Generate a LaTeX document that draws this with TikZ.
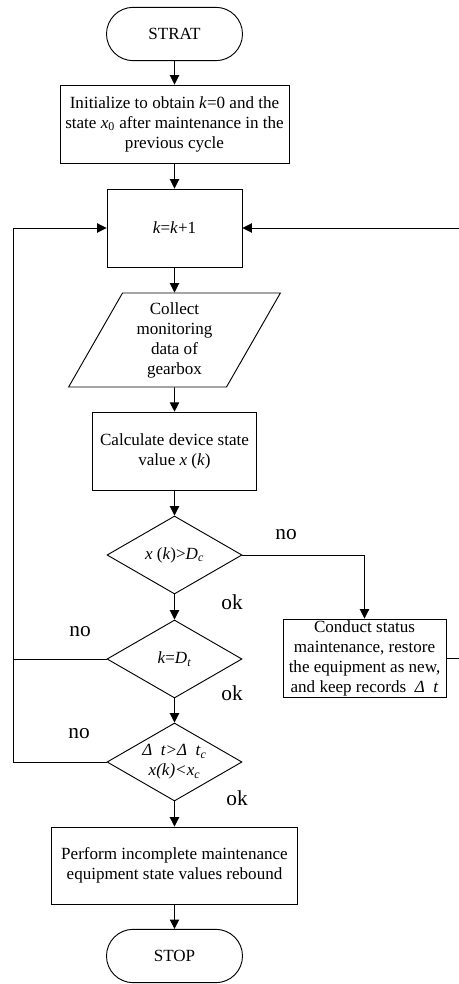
\documentclass[tikz,border=0pt]{standalone}
\usepackage{fontspec}
\setmainfont{Liberation Serif}
\usetikzlibrary{shapes.geometric,shapes.misc,arrows.meta}

\begin{document}
\begin{tikzpicture}[x=0.75pt,y=-0.75pt,line width=0.7pt,
	every node/.style={font=\fontsize{12.8}{15}\selectfont,align=center,inner sep=0pt},
	term/.style={draw,rounded rectangle,minimum width=102pt,minimum height=40pt},
	proc/.style={draw,rectangle,minimum height=58.5pt},
	io/.style={draw,trapezium,trapezium left angle=62.5,trapezium right angle=117.5,trapezium stretches=true,minimum width=159pt,minimum height=70.5pt},
	cond/.style={draw,diamond,shape aspect=1.73,minimum width=101.25pt,minimum height=58.5pt},
	lbl/.style={font=\fontsize{16}{18}\selectfont},
	flow/.style={-{Triangle[length=7pt,width=7pt]}}]
			\useasboundingbox (0,0) rectangle (459,984);
			\node[term] (start) at (174.5,34) {STRAT};
			\node[proc,minimum width=171.75pt] (init) at (174.5,124) {Initialize to obtain \textit{k}=0 and the\\state \textit{x}\textsubscript{0} after maintenance in the\\previous cycle};
			\node[proc,minimum width=101.25pt] (inc) at (174.5,228) {\textit{k}=\textit{k}+1};
			\node[io] (collect) at (174.5,340) {Collect\\monitoring\\data of\\gearbox};
			\node[proc,minimum width=123pt,minimum height=59pt] (calc) at (174.5,451.5) {Calculate device state\\value \textit{x} (\textit{k})};
			\node[cond] (d1) at (174.5,555) {\textit{x} (\textit{k})>\textit{D}\textsubscript{\textit{c}}};
			\node[cond] (d2) at (174.5,659) {\textit{k}=\textit{D}\textsubscript{\textit{t}}};
			\node[cond] (d3) at (174.5,762) {\textit{Δ\ \ t>Δ\ \ t}\textsubscript{\textit{c}}\\\textit{x(k)<x}\textsubscript{\textit{c}}};
			\node[proc,minimum width=122.25pt] (reset) at (364.5,658) {Conduct status\\maintenance, restore\\the equipment as new,\\and keep records \ \textit{Δ\ \ t}};
			\node[proc,minimum width=184.5pt,minimum height=57.75pt] (perform) at (174.5,865.5) {Perform incomplete maintenance\\equipment state values rebound};
			\node[term] (stop) at (174.5,956) {STOP};
			\coordinate (lft) at (13,228);
			\coordinate (rgt) at (462,228);
			\draw[flow] (start) -- (init);
			\draw[flow] (init) -- (inc);
			\draw[flow] (inc) -- (collect);
			\draw[flow] (collect) -- (calc);
			\draw[flow] (calc) -- (d1);
			\draw[flow] (d1) -- (d2);
			\draw[flow] (d2) -- (d3);
			\draw[flow] (d3) -- (perform);
			\draw[flow] (perform) -- (stop);
			\draw[flow] (d1.east) -| (reset.north);
			\draw[flow] (d3.west) -| (lft) -- (inc.west);
			\draw (d2.west) -- (d2.west -| lft);
			\draw[flow] (reset.east) -| (rgt) -- (inc.east);
			\node[lbl] (no1) at (286,535) {no};
			\node[lbl] (ok1) at (232,602) {ok};
			\node[lbl] (no2) at (80,632) {no};
			\node[lbl] (ok2) at (232,693) {ok};
			\node[lbl] (no3) at (79,734) {no};
			\node[lbl] (ok3) at (237,798) {ok};
\end{tikzpicture}
\end{document}
